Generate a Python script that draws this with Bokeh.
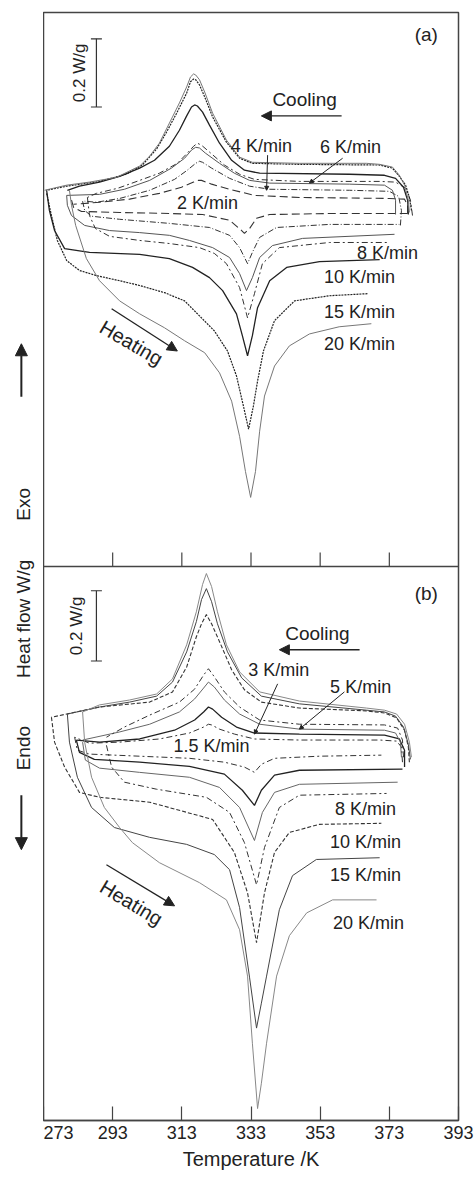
import math
from bokeh.plotting import figure
from bokeh.layouts import row
from bokeh.models import Range1d, FixedTicker, Label, Arrow, NormalHead, TeeHead, Span
from bokeh.embed import file_html
from bokeh.resources import INLINE

# ---------------- data ----------------
temp_ticks = [273, 293, 313, 333, 353, 373, 393]

# panel (a): (temperature K, heat flow W/g, arbitrary offset)
heat_a_2 = [(281.1,-0.029),(281.7,-0.050),(284.0,-0.062),(295.0,-0.065),(309.4,-0.068),(319.0,-0.071),(326.8,-0.088),(330.3,-0.118),(331.1,-0.126),(332.6,-0.112),(334.6,-0.082),(338.4,-0.071),(355.7,-0.068),(378.3,-0.068)]
heat_a_4 = [(284.3,-0.032),(284.9,-0.059),(286.9,-0.076),(295.0,-0.085),(309.4,-0.097),(321.0,-0.109),(326.8,-0.132),(329.7,-0.168),(332.0,-0.215),(333.4,-0.182),(335.5,-0.138),(340.4,-0.109),(355.7,-0.100),(375.9,-0.100)]
heat_a_6 = [(279.7,-0.015),(279.9,-0.044),(281.1,-0.074),(284.9,-0.103),(292.1,-0.118),(300.8,-0.124),(309.4,-0.132),(315.2,-0.147),(321.9,-0.168),(326.8,-0.197),(329.7,-0.244),(331.7,-0.294),(333.4,-0.256),(335.5,-0.197),(339.2,-0.162),(347.9,-0.141),(374.5,-0.129)]
heat_a_8 = [(285.7,-0.021),(286.3,-0.074),(288.0,-0.112),(292.1,-0.135),(300.8,-0.147),(309.4,-0.156),(318.1,-0.168),(322.4,-0.185),(325.9,-0.215),(329.7,-0.285),(332.0,-0.374),(334.0,-0.303),(336.3,-0.215),(341.2,-0.168),(355.7,-0.153),(373.0,-0.153)]
heat_a_10 = [(273.9,0.000),(274.7,-0.059),(276.2,-0.118),(279.1,-0.171),(286.3,-0.182),(300.8,-0.188),(309.4,-0.200),(316.1,-0.226),(321.0,-0.256),(324.8,-0.294),(328.8,-0.362),(330.5,-0.426),(332.0,-0.485),(333.4,-0.426),(334.9,-0.344),(338.4,-0.265),(343.3,-0.226),(352.8,-0.209),(370.2,-0.203)]
heat_a_15 = [(273.9,-0.009),(275.3,-0.074),(277.0,-0.147),(279.7,-0.206),(283.4,-0.235),(288.3,-0.250),(295.0,-0.265),(300.8,-0.279),(308.0,-0.300),(313.8,-0.324),(318.1,-0.368),(322.4,-0.412),(326.2,-0.471),(328.8,-0.544),(330.8,-0.632),(332.3,-0.700),(333.7,-0.632),(334.9,-0.559),(336.6,-0.471),(339.8,-0.382),(345.6,-0.324),(355.7,-0.309),(366.7,-0.303)]
heat_a_20 = [(280.5,0.000),(281.1,-0.044),(282.3,-0.103),(285.4,-0.200),(289.2,-0.265),(295.0,-0.324),(300.8,-0.362),(308.0,-0.403),(313.8,-0.441),(319.6,-0.476),(323.9,-0.535),(327.4,-0.618),(329.7,-0.721),(331.4,-0.824),(332.9,-0.900),(334.3,-0.824),(335.5,-0.706),(336.9,-0.603),(339.8,-0.515),(344.1,-0.456),(349.9,-0.421),(358.5,-0.400),(367.8,-0.391)]

cool_a_2 = [(378.3,-0.068),(378.3,-0.044),(377.4,-0.026),(373.0,-0.024),(347.0,-0.021),(334.0,-0.015),(326.8,0.003),(321.6,0.018),(318.7,0.029),(317.8,0.029),(316.4,0.024),(312.9,0.009),(306.5,-0.009),(297.9,-0.026),(289.2,-0.035),(281.7,-0.041)]
cool_a_4 = [(376.2,-0.103),(376.5,-0.059),(375.7,-0.018),(373.0,-0.003),(361.5,0.000),(338.4,0.003),(332.6,0.012),(326.8,0.035),(321.6,0.065),(319.0,0.082),(318.1,0.085),(317.0,0.079),(314.6,0.059),(310.9,0.032),(303.7,0.000),(295.0,-0.024),(288.3,-0.035),(284.9,-0.032)]
cool_a_6 = [(374.8,-0.071),(374.8,-0.029),(373.9,0.000),(371.6,0.015),(361.5,0.018),(338.4,0.021),(332.6,0.029),(328.2,0.050),(323.9,0.079),(319.8,0.109),(318.1,0.124),(317.0,0.126),(315.8,0.118),(313.8,0.094),(310.0,0.065),(303.7,0.029),(296.4,0.003),(289.2,-0.012),(279.7,-0.015)]
cool_a_8 = [(379.7,-0.074),(379.1,-0.029),(377.7,0.006),(374.8,0.024),(370.2,0.026),(347.0,0.026),(334.0,0.032),(329.7,0.047),(325.3,0.074),(321.0,0.112),(318.7,0.132),(317.5,0.138),(316.4,0.129),(314.6,0.109),(311.7,0.079),(306.5,0.050),(300.8,0.029),(294.5,0.006),(288.3,-0.009),(285.7,-0.021)]
cool_a_10 = [(378.5,-0.071),(378.3,-0.029),(377.1,0.009),(374.8,0.035),(371.6,0.044),(361.5,0.047),(335.5,0.050),(331.1,0.059),(327.4,0.088),(323.9,0.138),(321.0,0.191),(319.0,0.229),(317.5,0.247),(316.7,0.250),(315.8,0.244),(314.4,0.218),(312.3,0.176),(309.4,0.129),(305.1,0.088),(300.8,0.065),(295.0,0.041),(289.2,0.024),(283.4,0.012),(279.9,0.000)]
cool_a_15 = [(379.4,-0.059),(378.8,-0.021),(377.7,0.015),(375.9,0.041),(373.9,0.065),(370.2,0.074),(347.0,0.076),(333.4,0.079),(329.7,0.094),(325.9,0.141),(321.9,0.215),(319.6,0.274),(318.1,0.309),(317.0,0.324),(316.4,0.326),(315.5,0.318),(314.4,0.285),(311.5,0.226),(308.6,0.171),(305.7,0.121),(301.6,0.074),(297.0,0.047),(289.2,0.026),(279.7,0.012),(273.9,0.000)]
cool_a_20 = [(378.8,-0.065),(378.5,-0.029),(377.4,0.015),(375.9,0.044),(373.9,0.068),(370.2,0.076),(366.4,0.079),(347.0,0.079),(333.4,0.082),(329.7,0.097),(325.9,0.147),(321.9,0.226),(319.6,0.288),(318.1,0.324),(317.0,0.338),(316.4,0.341),(315.5,0.332),(314.4,0.303),(312.3,0.256),(310.3,0.215),(306.5,0.138),(303.7,0.100),(300.8,0.071),(294.1,0.038),(286.3,0.024),(279.7,0.015),(273.3,0.000)]

# panel (b)
heat_b_1_5 = [(282.0,0.014),(282.8,-0.023),(286.3,-0.034),(300.8,-0.040),(315.2,-0.046),(325.3,-0.057),(331.1,-0.071),(334.0,-0.086),(336.0,-0.063),(339.8,-0.046),(352.8,-0.040),(370.7,-0.037)]
heat_b_3 = [(282.5,0.006),(283.4,-0.029),(287.7,-0.049),(300.8,-0.057),(315.2,-0.069),(325.3,-0.091),(330.5,-0.137),(334.0,-0.180),(336.0,-0.137),(339.8,-0.094),(347.0,-0.080),(376.8,-0.077)]
heat_b_5 = [(284.3,0.000),(285.1,-0.051),(289.2,-0.074),(300.8,-0.086),(315.2,-0.100),(323.9,-0.129),(329.7,-0.186),(334.0,-0.280),(336.3,-0.200),(339.8,-0.143),(347.0,-0.120),(375.4,-0.114)]
heat_b_8 = [(291.2,-0.009),(292.7,-0.071),(296.4,-0.114),(305.7,-0.134),(320.1,-0.157),(326.8,-0.200),(331.1,-0.286),(334.6,-0.406),(336.9,-0.300),(341.2,-0.186),(347.0,-0.151),(372.2,-0.146)]
heat_b_10 = [(275.3,0.071),(276.2,0.000),(279.1,-0.071),(283.4,-0.143),(289.2,-0.157),(303.7,-0.171),(321.9,-0.220),(328.2,-0.314),(332.0,-0.429),(334.6,-0.571),(336.9,-0.429),(339.8,-0.314),(344.1,-0.257),(352.8,-0.234),(370.7,-0.231)]
heat_b_15 = [(279.9,0.080),(280.5,0.000),(282.8,-0.100),(286.9,-0.186),(293.5,-0.243),(303.7,-0.271),(314.4,-0.291),(322.4,-0.320),(326.8,-0.363),(329.7,-0.471),(332.6,-0.671),(334.6,-0.814),(336.0,-0.743),(337.5,-0.666),(341.2,-0.477),(345.0,-0.380),(351.9,-0.334),(370.2,-0.329)]
heat_b_20 = [(284.3,0.086),(284.9,0.000),(286.9,-0.100),(290.6,-0.186),(295.0,-0.243),(298.7,-0.286),(306.5,-0.343),(318.1,-0.400),(325.9,-0.449),(329.7,-0.534),(332.0,-0.666),(333.4,-0.857),(334.9,-1.043),(336.0,-0.971),(337.5,-0.857),(340.4,-0.666),(344.1,-0.551),(349.1,-0.486),(356.6,-0.449),(369.3,-0.449)]

cool_b_1_5 = [(376.8,-0.057),(376.5,-0.014),(375.1,0.003),(370.2,0.006),(347.0,0.006),(334.0,0.009),(328.2,0.023),(323.9,0.037),(321.6,0.049),(320.7,0.051),(319.3,0.043),(315.2,0.026),(306.5,0.009),(295.0,0.000),(286.3,-0.003),(282.0,0.014)]
cool_b_3 = [(377.4,-0.071),(377.4,-0.023),(375.9,0.009),(371.6,0.020),(347.0,0.023),(334.0,0.026),(328.8,0.043),(324.5,0.071),(321.9,0.094),(320.7,0.100),(319.3,0.086),(316.7,0.063),(310.9,0.034),(300.8,0.009),(289.2,0.000),(282.5,0.006)]
cool_b_5 = [(376.5,-0.043),(376.2,0.000),(374.8,0.026),(371.6,0.034),(347.0,0.037),(335.5,0.051),(329.7,0.080),(325.3,0.120),(322.4,0.157),(320.7,0.171),(319.3,0.154),(316.7,0.123),(312.3,0.086),(303.7,0.051),(295.0,0.029),(284.3,0.006)]
cool_b_8 = [(377.1,-0.043),(376.8,0.006),(375.4,0.040),(371.6,0.049),(347.0,0.051),(335.5,0.063),(329.7,0.100),(325.3,0.143),(322.4,0.186),(320.7,0.209),(319.3,0.191),(316.7,0.151),(312.3,0.114),(303.7,0.077),(296.4,0.043),(291.2,0.014)]
cool_b_10 = [(378.8,-0.057),(378.5,-0.014),(377.4,0.034),(375.1,0.069),(371.6,0.083),(366.4,0.089),(347.0,0.097),(336.0,0.114),(331.1,0.149),(327.4,0.206),(323.9,0.286),(321.6,0.337),(320.1,0.363),(318.7,0.337),(317.2,0.300),(314.4,0.214),(310.3,0.143),(303.7,0.114),(289.2,0.100),(275.3,0.071)]
cool_b_15 = [(379.1,-0.049),(378.5,-0.006),(377.1,0.043),(374.8,0.074),(371.6,0.086),(366.4,0.091),(347.0,0.109),(336.0,0.131),(330.3,0.183),(326.2,0.257),(323.3,0.337),(321.6,0.400),(320.1,0.437),(318.7,0.406),(317.2,0.343),(314.4,0.257),(310.3,0.171),(305.7,0.131),(297.9,0.114),(289.2,0.100),(279.9,0.080)]
cool_b_20 = [(379.4,-0.043),(378.8,0.000),(377.4,0.051),(375.1,0.080),(371.6,0.091),(366.4,0.097),(347.0,0.117),(335.5,0.143),(329.7,0.200),(325.9,0.277),(323.3,0.371),(321.6,0.443),(320.1,0.480),(319.0,0.449),(317.2,0.371),(314.4,0.277),(310.3,0.180),(305.7,0.137),(297.9,0.120),(289.2,0.106),(284.3,0.086)]

rates_a = ["2", "4", "6", "8", "10", "15", "20"]
rates_b = ["1.5", "3", "5", "8", "10", "15", "20"]
scale_bar_wg = 0.2

# ---------------- styles ----------------
FONT = "Liberation Sans"
INK = "#222222"
FRAME = "#444444"
style_a = {"2": ("#333333", 1.1, "8 4"), "4": ("#333333", 1.0, "6 2 1 2"),
           "6": ("#555555", 1.0, "solid"), "8": ("#333333", 1.0, "6 3 2 3"),
           "10": ("#222222", 1.3, "solid"), "15": ("#222222", 1.2, "2 1"),
           "20": ("#777777", 1.0, "solid")}
style_b = {"1.5": ("#333333", 1.0, "6 3 2 3"), "3": ("#222222", 1.3, "solid"),
           "5": ("#666666", 1.0, "solid"), "8": ("#333333", 1.0, "6 3 2 3"),
           "10": ("#333333", 1.1, "4 2"), "15": ("#444444", 1.0, "solid"),
           "20": ("#888888", 1.0, "solid")}

curves_a = {"2": (heat_a_2, cool_a_2), "4": (heat_a_4, cool_a_4), "6": (heat_a_6, cool_a_6),
            "8": (heat_a_8, cool_a_8), "10": (heat_a_10, cool_a_10), "15": (heat_a_15, cool_a_15),
            "20": (heat_a_20, cool_a_20)}
curves_b = {"1.5": (heat_b_1_5, cool_b_1_5), "3": (heat_b_3, cool_b_3), "5": (heat_b_5, cool_b_5),
            "8": (heat_b_8, cool_b_8), "10": (heat_b_10, cool_b_10), "15": (heat_b_15, cool_b_15),
            "20": (heat_b_20, cool_b_20)}

# panel split (in panel-b heat-flow units) and inner tick length
panel_split = 0.5
tick_len = 0.04

# ---------------- main figure ----------------
yb = Range1d(-1.077, 2.077)
p = figure(width=431, height=1172, x_range=Range1d(273, 393), y_range=yb,
           output_backend="svg", toolbar_location=None, y_axis_location=None,
           min_border_left=0, min_border_right=16, min_border_top=12, min_border_bottom=0)
p.extra_y_ranges = {"a": Range1d(-2.726, 0.521)}
p.xgrid.visible = False
p.ygrid.visible = False
p.outline_line_color = FRAME
p.outline_line_width = 1.5
p.background_fill_color = "white"
p.border_fill_color = "white"

ax = p.xaxis[0]
ax.ticker = FixedTicker(ticks=temp_ticks)
ax.major_tick_in = 14
ax.major_tick_out = 0
ax.minor_tick_line_color = None
ax.major_tick_line_color = FRAME
ax.major_tick_line_width = 1.2
ax.axis_line_color = FRAME
ax.axis_line_width = 1.5
ax.major_label_text_font = FONT
ax.major_label_text_font_size = "18px"
ax.major_label_text_color = INK
ax.major_label_standoff = 5
ax.axis_label = "Temperature /K"
ax.axis_label_text_font = FONT
ax.axis_label_text_font_size = "20px"
ax.axis_label_text_font_style = "normal"
ax.axis_label_text_color = INK
ax.axis_label_standoff = 6

# boundary between the two panels, with the upward ticks of panel (a)
p.add_layout(Span(location=panel_split, dimension="width", line_color=FRAME, line_width=1.5))
inner = temp_ticks[1:-1]
p.segment(x0=inner, y0=[panel_split] * len(inner), x1=inner, y1=[panel_split + tick_len] * len(inner),
          line_color=FRAME, line_width=1.2)

for r in rates_a:
    col, lw, dash = style_a[r]
    for pts in curves_a[r]:
        p.line([q[0] for q in pts], [q[1] for q in pts], y_range_name="a",
               line_color=col, line_width=lw, line_dash=dash)
for r in rates_b:
    col, lw, dash = style_b[r]
    for pts in curves_b[r]:
        p.line([q[0] for q in pts], [q[1] for q in pts],
               line_color=col, line_width=lw, line_dash=dash)


def label(fig, text, x, y, size=18, rng="default", angle=0.0):
    fig.add_layout(Label(x=x, y=y, text=text, y_range_name=rng, text_font=FONT,
                         text_font_size=f"{size}px", text_align="center", text_baseline="middle",
                         angle=angle, text_color=INK))


def arrow(fig, x0, y0, x1, y1, rng="default", size=9, lw=1.3):
    fig.add_layout(Arrow(x_start=x0, y_start=y0, x_end=x1, y_end=y1, y_range_name=rng,
                         line_color=INK, line_width=lw,
                         end=NormalHead(size=size, fill_color=INK, line_color=INK)))


def scale_bar(x, y0, rng):
    p.add_layout(Arrow(x_start=x, y_start=y0, x_end=x, y_end=y0 + scale_bar_wg, y_range_name=rng,
                       line_color="#333333", line_width=1.2,
                       start=TeeHead(size=11, line_color="#333333", line_width=1.2),
                       end=TeeHead(size=11, line_color="#333333", line_width=1.2)))


# panel (a) annotations
label(p, "(a)", 383.7, 0.456, 19, "a")
scale_bar(288.3, 0.244, "a")
label(p, f"{scale_bar_wg} W/g", 283.4, 0.344, 17, "a", math.pi / 2)
label(p, "Cooling", 348.5, 0.265, 19, "a")
arrow(p, 359.2, 0.218, 336.0, 0.218, "a", 10, 1.4)
label(p, f"{rates_a[1]} K/min", 336.0, 0.129, 18, "a")
arrow(p, 337.8, 0.103, 337.5, 0.0, "a", 4, 1.0)
label(p, f"{rates_a[2]} K/min", 361.8, 0.126, 18, "a")
arrow(p, 359.5, 0.094, 349.9, 0.021, "a", 4, 1.0)
label(p, f"{rates_a[0]} K/min", 320.4, -0.038, 18, "a")
label(p, f"{rates_a[3]} K/min", 372.5, -0.185, 18, "a")
label(p, f"{rates_a[4]} K/min", 364.4, -0.253, 18, "a")
label(p, f"{rates_a[5]} K/min", 364.4, -0.356, 18, "a")
label(p, f"{rates_a[6]} K/min", 364.4, -0.450, 18, "a")
label(p, "Heating", 298.4, -0.447, 20, "a", -0.53)
arrow(p, 292.7, -0.347, 311.7, -0.471, "a", 10, 1.3)

# panel (b) annotations
label(p, "(b)", 383.7, 0.423, 19)
scale_bar(288.3, 0.231, "default")
label(p, f"{scale_bar_wg} W/g", 282.5, 0.331, 17, "default", math.pi / 2)
label(p, "Cooling", 352.2, 0.309, 19)
arrow(p, 364.4, 0.263, 341.2, 0.263, "default", 10, 1.4)
label(p, f"{rates_b[1]} K/min", 341.0, 0.206, 18)
arrow(p, 340.7, 0.166, 334.0, 0.023, "default", 4, 1.0)
label(p, f"{rates_b[2]} K/min", 364.7, 0.157, 18)
arrow(p, 360.0, 0.143, 347.0, 0.037, "default", 4, 1.0)
label(p, f"{rates_b[0]} K/min", 321.6, -0.011, 18)
label(p, f"{rates_b[3]} K/min", 366.1, -0.189, 18)
label(p, f"{rates_b[4]} K/min", 366.1, -0.283, 18)
label(p, f"{rates_b[5]} K/min", 366.1, -0.377, 18)
label(p, f"{rates_b[6]} K/min", 367.0, -0.514, 18)
label(p, "Heating", 298.4, -0.457, 20, "default", -0.54)
arrow(p, 291.2, -0.349, 310.9, -0.466, "default", 10, 1.3)

# ---------------- left strip: Exo / Heat flow / Endo (frame aligned with main frame) ----------------
left = figure(width=43, height=1172, x_range=Range1d(260.57, 273.0), y_range=yb,
              output_backend="svg", toolbar_location=None, x_axis_location=None, y_axis_location=None,
              min_border_left=0, min_border_right=0, min_border_top=12, min_border_bottom=0)
left.outline_line_color = None
left.xgrid.visible = False
left.ygrid.visible = False
left.background_fill_color = "white"
left.border_fill_color = "white"

arrow(left, 266.6, 0.983, 266.6, 1.134, "default", 12, 2.0)
label(left, "Exo", 267.2, 0.677, 19, "default", math.pi / 2)
label(left, "Heat flow W/g", 267.2, 0.351, 19, "default", math.pi / 2)
label(left, "Endo", 267.2, -0.017, 19, "default", math.pi / 2)
arrow(left, 266.6, -0.151, 266.6, -0.306, "default", 12, 2.0)

layout = row(left, p)
open("out.html", "w").write(file_html(layout, INLINE))
